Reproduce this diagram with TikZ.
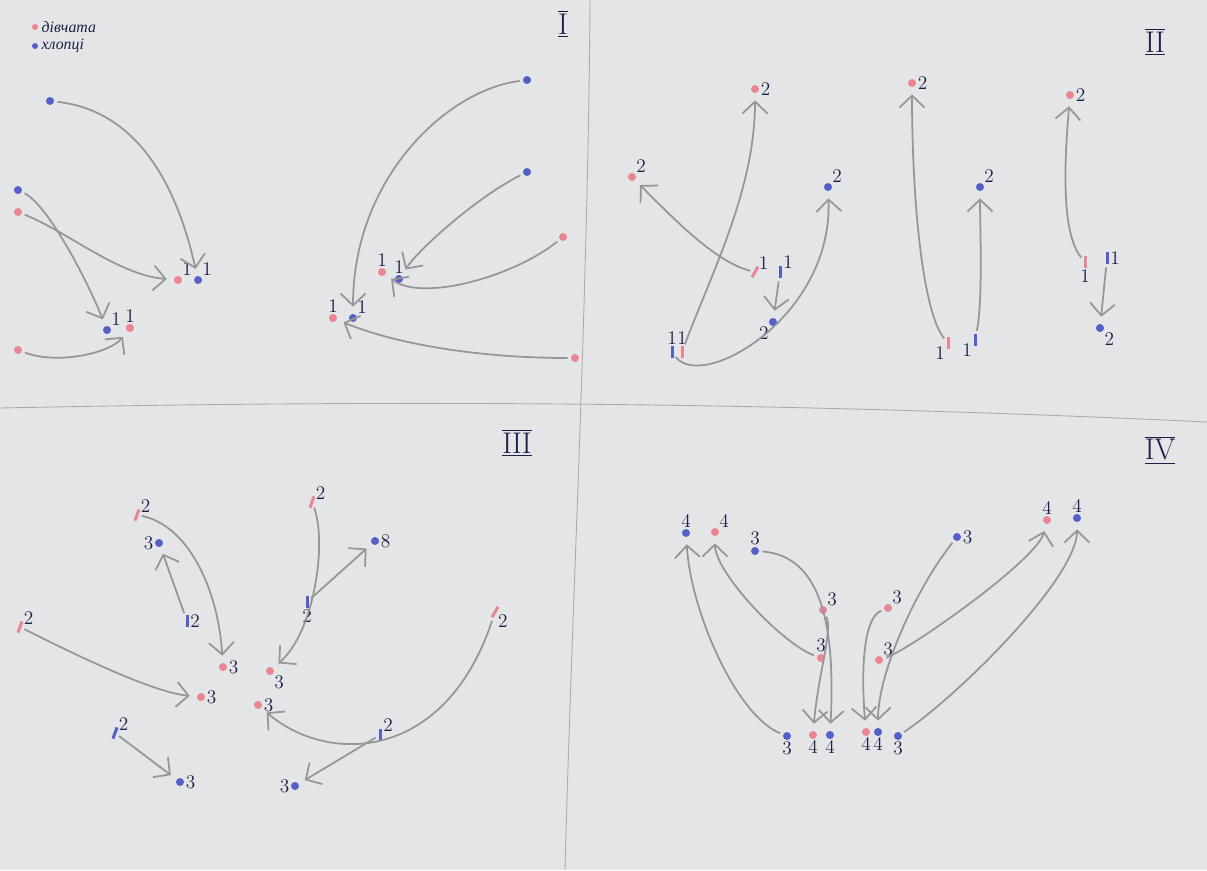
\documentclass[tikz,border=0pt]{standalone}
\usepackage{fontspec}
\usepackage{tikz}
\usetikzlibrary{arrows.meta}
\newfontfamily\cyr{Liberation Serif}
\definecolor{paper}{RGB}{228,229,231}
\definecolor{pencil}{RGB}{150,150,152}
\definecolor{girlc}{RGB}{234,134,146}
\definecolor{boyc}{RGB}{84,96,198}
\definecolor{ink}{RGB}{28,30,72}

\begin{document}
\begin{tikzpicture}[x=0.2mm,y=-0.2mm,
    girl/.style={circle,fill=girlc,minimum size=1.6mm,inner sep=0},
    boy/.style={circle,fill=boyc,minimum size=1.6mm,inner sep=0},
    girlmark/.style={rectangle,fill=girlc,minimum width=0.6mm,minimum height=2.4mm,inner sep=0},
    boymark/.style={rectangle,fill=boyc,minimum width=0.6mm,minimum height=2.4mm,inner sep=0},
    num/.style={font=\fontsize{11}{11}\selectfont,text=ink,inner sep=0.6pt},
    legtext/.style={text=ink,font=\cyr\itshape\fontsize{9}{9}\selectfont,inner sep=0},
    arr/.style={draw=pencil,line width=1pt,
      -{Straight Barb[length=2.4mm,width=5mm,line width=1pt]},
      shorten >=1.4mm,shorten <=0.6mm},
    divider/.style={draw=pencil!80,line width=0.5pt},
    quad/.style={font=\fontsize{17}{17}\selectfont,text=ink}]
    \fill[paper] (0,0) rectangle (1207,870);
    \useasboundingbox (0,0) rectangle (1207,870);
    % dividing lines
    \draw[divider] (590,0) .. controls (588,300) and (572,600) .. (565,870);
    \draw[divider] (0,408) .. controls (300,402) and (700,398) .. (1207,422);
    % quadrant numbers
    \node[quad] (q1) at (563,24) {$\overline{\underline{\mathrm{I}}}$};
    \node[quad] (q2) at (1155,42) {$\overline{\underline{\mathrm{II}}}$};
    \node[quad] (q3) at (517,443) {$\overline{\underline{\mathrm{III}}}$};
    \node[quad] (q4) at (1160,450) {$\overline{\underline{\mathrm{IV}}}$};
    % legend
    \node[girl,minimum size=1.2mm] (leg_g) at (35,27) {};
    \node[boy,minimum size=1.2mm] (leg_b) at (35,46) {};
    \node[legtext,right=0.6mm] (leg_gt) at (leg_g.east) {дівчата};
    \node[legtext,right=0.6mm] (leg_bt) at (leg_b.east) {хлопці};

    % ---- I ----
    \node[boy] (ib1) at (50,101) {};
    \node[boy] (ib2) at (18,190) {};
    \node[girl] (ig1) at (18,212) {};
    \node[girl] (ig2) at (18,350) {};
    \node[boy] (ib3) at (527,80) {};
    \node[boy] (ib4) at (527,172) {};
    \node[girl] (ig3) at (563,237) {};
    \node[girl] (ig4) at (575,358) {};
    \node[girl,label={[num]above right:1}] (it_g1) at (178,280) {};
    \node[boy,label={[num]above right:1}] (it_b1) at (198,280) {};
    \node[boy,label={[num]above right:1}] (it_b2) at (107,330) {};
    \node[girl,label={[num]above:1}] (it_g2) at (130,328) {};
    \node[girl,label={[num]above:1}] (it_g4) at (333,318) {};
    \node[boy,label={[num]above right:1}] (it_b3) at (353,318) {};
    \node[girl,label={[num]above:1}] (it_g3) at (382,272) {};
    \node[boy,label={[num]above:1}] (it_b4) at (399,279) {};
    \draw[arr] (ib1) .. controls +(90,10) and +(-20,-90) .. (it_b1);
    \draw[arr] (ib2) .. controls +(30,15) and +(-20,-50) .. (it_b2);
    \draw[arr] (ig1) .. controls +(50,20) and +(-60,-5) .. (it_g1);
    \draw[arr] (ig2) .. controls +(40,15) and +(-20,25) .. (it_g2);
    \draw[arr] (ib3) .. controls +(-80,10) and +(0,-140) .. (it_b3);
    \draw[arr] (ib4) .. controls +(-50,25) and +(20,-30) .. (it_b4);
    \draw[arr] (ig3) .. controls +(-50,40) and +(40,30) .. (it_g3);
    \draw[arr] (ig4) .. controls +(-100,0) and +(60,25) .. (it_g4);

    % ---- II ----
    \node[boymark,label={[num]above:1}] (iib1) at (672,352) {};
    \node[girlmark,label={[num]above:1}] (iig1) at (682,352) {};
    \node[girlmark,rotate=-30,label={[num]above right:1}] (iig2) at (755,272) {};
    \node[boymark,label={[num]above right:1}] (iib2) at (780,272) {};
    \node[girlmark,label={[num]below left:1}] (iig3) at (948,343) {};
    \node[boymark,label={[num]below left:1}] (iib3) at (975,340) {};
    \node[girlmark,label={[num]below:1}] (iig4) at (1085,262) {};
    \node[boymark,label={[num]right:1}] (iib4) at (1107,258) {};
    \node[girl,label={[num]right:2}] (iit_g1) at (755,89) {};
    \node[girl,label={[num]above right:2}] (iit_g2) at (632,177) {};
    \node[boy,label={[num]above right:2}] (iit_b1) at (828,187) {};
    \node[boy,label={[num]below left:2}] (iit_b2) at (773,322) {};
    \node[girl,label={[num]right:2}] (iit_g3) at (912,83) {};
    \node[boy,label={[num]above right:2}] (iit_b3) at (980,187) {};
    \node[girl,label={[num]right:2}] (iit_g4) at (1070,95) {};
    \node[boy,label={[num]below right:2}] (iit_b4) at (1100,328) {};
    \draw[arr] (iig1) .. controls +(30,-80) and +(0,100) .. (iit_g1);
    \draw[arr] (iig2) .. controls +(-40,-10) and +(40,40) .. (iit_g2);
    \draw[arr] (iib1) .. controls +(30,40) and +(5,130) .. (iit_b1);
    \draw[arr] (iib2) -- (iit_b2);
    \draw[arr] (iig3) .. controls +(-25,-30) and +(0,120) .. (iit_g3);
    \draw[arr] (iib3) .. controls +(8,-40) and +(0,40) .. (iit_b3);
    \draw[arr] (iig4) .. controls +(-25,-30) and +(-5,60) .. (iit_g4);
    \draw[arr] (iib4) -- (iit_b4);

    % ---- III ----
    \node[girlmark,rotate=-20,label={[num]above right:2}] (iiig1) at (137,515) {};
    \node[boymark,label={[num]right:2}] (iiib1) at (187,621) {};
    \node[girlmark,rotate=-20,label={[num]above right:2}] (iiig2) at (20,627) {};
    \node[boymark,rotate=-20,label={[num]above right:2}] (iiib2) at (115,733) {};
    \node[girlmark,rotate=-20,label={[num]above right:2}] (iiig3) at (312,502) {};
    \node[boymark,label={[num]below:2}] (iiib3) at (307,602) {};
    \node[girlmark,rotate=-30,label={[num]right:2}] (iiig4) at (495,612) {};
    \node[boymark,label={[num]above right:2}] (iiib4) at (380,735) {};
    \node[girl,label={[num]right:3}] (iiit_g1) at (223,667) {};
    \node[boy,label={[num]left:3}] (iiit_b1) at (159,543) {};
    \node[girl,label={[num]right:3}] (iiit_g2) at (201,697) {};
    \node[boy,label={[num]right:3}] (iiit_b2) at (180,782) {};
    \node[girl,label={[num]below right:3}] (iiit_g3) at (270,671) {};
    \node[boy,label={[num]right:8}] (iiit_b3) at (375,541) {};
    \node[girl,label={[num]right:3}] (iiit_g4) at (258,705) {};
    \node[boy,label={[num]left:3}] (iiit_b4) at (295,786) {};
    \draw[arr] (iiig1) .. controls +(50,10) and +(-5,-80) .. (iiit_g1);
    \draw[arr] (iiib1) -- (iiit_b1);
    \draw[arr] (iiig2) .. controls +(50,25) and +(-50,-5) .. (iiit_g2);
    \draw[arr] (iiib2) -- (iiit_b2);
    \draw[arr] (iiig3) .. controls +(15,40) and +(45,-40) .. (iiit_g3);
    \draw[arr] (iiib3) -- (iiit_b3);
    \draw[arr] (iiig4) .. controls +(-50,150) and +(70,60) .. (iiit_g4);
    \draw[arr] (iiib4) -- (iiit_b4);

    % ---- IV ----
    \node[boy,label={[num]below:3}] (ivb1) at (787,736) {};
    \node[girl,label={[num]above:3}] (ivg1) at (821,658) {};
    \node[boy,label={[num]above:3}] (ivb2) at (755,551) {};
    \node[girl,label={[num]above right:3}] (ivg2) at (823,610) {};
    \node[girl,label={[num]above right:3}] (ivg3) at (888,608) {};
    \node[boy,label={[num]right:3}] (ivb3) at (957,537) {};
    \node[girl,label={[num]above right:3}] (ivg4) at (879,660) {};
    \node[boy,label={[num]below:3}] (ivb4) at (898,736) {};
    \node[boy,label={[num]above:4}] (ivt_b1) at (686,533) {};
    \node[girl,label={[num]above right:4}] (ivt_g1) at (715,532) {};
    \node[girl,label={[num]below:4}] (ivt_g2) at (813,735) {};
    \node[boy,label={[num]below:4}] (ivt_b2) at (830,735) {};
    \node[girl,label={[num]below:4}] (ivt_g3) at (866,732) {};
    \node[boy,label={[num]below:4}] (ivt_b3) at (878,732) {};
    \node[girl,label={[num]above:4}] (ivt_g4) at (1047,520) {};
    \node[boy,label={[num]above:4}] (ivt_b4) at (1077,518) {};
    \draw[arr] (ivb1) .. controls +(-50,-20) and +(5,80) .. (ivt_b1);
    \draw[arr] (ivg1) .. controls +(-40,-15) and +(0,40) .. (ivt_g1);
    \draw[arr] (ivb2) .. controls +(70,5) and +(5,-100) .. (ivt_b2);
    \draw[arr] (ivg2) .. controls +(10,20) and +(5,-60) .. (ivt_g2);
    \draw[arr] (ivg3) .. controls +(-25,10) and +(-5,-60) .. (ivt_g3);
    \draw[arr] (ivb3) .. controls +(-40,50) and +(0,-60) .. (ivt_b3);
    \draw[arr] (ivg4) .. controls +(30,-10) and +(-10,40) .. (ivt_g4);
    \draw[arr] (ivb4) .. controls +(60,-40) and +(0,60) .. (ivt_b4);
\end{tikzpicture}
\end{document}
